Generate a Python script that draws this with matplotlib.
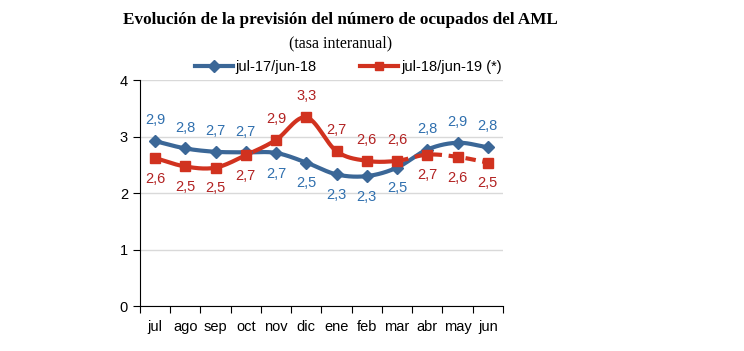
import numpy as np
import matplotlib.pyplot as plt
from matplotlib.lines import Line2D

meses = ['jul', 'ago', 'sep', 'oct', 'nov', 'dic', 'ene', 'feb', 'mar', 'abr', 'may', 'jun']
serie_1718 = [2.92, 2.79, 2.73, 2.72, 2.71, 2.54, 2.33, 2.30, 2.45, 2.77, 2.89, 2.81]
serie_1819 = [2.62, 2.47, 2.45, 2.67, 2.94, 3.34, 2.74, 2.57, 2.57, 2.68, 2.64, 2.54]
# posicion de la etiqueta: 1 arriba, -1 abajo
pos_1718 = [1, 1, 1, 1, -1, -1, -1, -1, -1, 1, 1, 1]
pos_1819 = [-1, -1, -1, -1, 1, 1, 1, 1, 1, -1, -1, -1]
inicio_prevision = 8  # desde mar la linea es discontinua

azul = '#3b6797'
rojo = '#d1321f'
azul_txt = '#2f6fae'
rojo_txt = '#b22222'


def suavizar(x, y, n=30):
    # curva tipo Catmull-Rom, como el suavizado de Excel
    x = np.asarray(x, float)
    y = np.asarray(y, float)
    px = np.concatenate([[2 * x[0] - x[1]], x, [2 * x[-1] - x[-2]]])
    py = np.concatenate([[2 * y[0] - y[1]], y, [2 * y[-1] - y[-2]]])
    xs, ys = [], []
    t = np.linspace(0, 1, n)
    for i in range(1, len(px) - 2):
        for p, out in ((px, xs), (py, ys)):
            p0, p1, p2, p3 = p[i - 1], p[i], p[i + 1], p[i + 2]
            m1 = (p2 - p0) / 6
            m2 = (p3 - p1) / 6
            seg = ((1 - t) ** 3 * p1 + 3 * (1 - t) ** 2 * t * (p1 + m1)
                   + 3 * (1 - t) * t ** 2 * (p2 - m2) + t ** 3 * p2)
            out.append(seg if i == 1 else seg[1:])
    return np.concatenate(xs), np.concatenate(ys)


fig = plt.figure(figsize=(7.44, 3.51), dpi=100)
ax = fig.add_axes([0.188, 0.128, 0.488, 0.644])
x = np.arange(len(meses))

sx, sy = suavizar(x, serie_1718)
ax.plot(sx, sy, color=azul, lw=3, solid_capstyle='round', zorder=3)
ax.plot(x, serie_1718, ls='none', marker='D', ms=6.5, color=azul, zorder=4)

rx, ry = suavizar(x, serie_1819)
m = rx <= inicio_prevision
ax.plot(rx[m], ry[m], color=rojo, lw=3, zorder=3)
ax.plot(rx[~m], ry[~m], color=rojo, lw=3, ls=(0, (2.5, 1.6)), zorder=3)
ax.plot(x, serie_1819, ls='none', marker='s', ms=7, color=rojo, zorder=4)

for serie, pos, col in ((serie_1718, pos_1718, azul_txt), (serie_1819, pos_1819, rojo_txt)):
    for xi, v, p in zip(x, serie, pos):
        ax.annotate(f'{v:.1f}'.replace('.', ','), (xi, v), xytext=(0, 15 * p),
                    textcoords='offset points', ha='center', va='center',
                    fontsize=10.5, color=col, family='Liberation Sans')

ax.set_xlim(-0.5, len(meses) - 0.5)
ax.set_ylim(0, 4)
ax.set_yticks([0, 1, 2, 3, 4])
ax.set_xticks(np.arange(-0.5, len(meses), 1))
ax.set_xticklabels([])
ax.set_xticks(x, minor=True)
ax.set_xticklabels(meses, minor=True, fontsize=10.5, family='Liberation Sans')
ax.tick_params(axis='x', which='minor', length=0, pad=10)
ax.tick_params(axis='x', which='major', length=5, direction='out')
ax.tick_params(axis='y', length=5, direction='out', labelsize=10.5)
for lab in ax.get_yticklabels():
    lab.set_family('Liberation Sans')
ax.grid(axis='y', color='#d9d9d9', lw=1)
ax.set_axisbelow(True)
for s in ('top', 'right'):
    ax.spines[s].set_visible(False)

fig.text(0.458, 0.942, 'Evolución de la previsión del número de ocupados del AML',
         ha='center', va='center', fontsize=12.3, weight='bold', family='Liberation Serif')
fig.text(0.458, 0.875, '(tasa interanual)', ha='center', va='center',
         fontsize=11.5, family='Liberation Serif')

handles = [Line2D([], [], color=azul, lw=3, marker='D', ms=6),
           Line2D([], [], color=rojo, lw=3, marker='s', ms=6)]
fig.legend(handles, ['jul-17/jun-18', 'jul-18/jun-19 (*)'], loc='center',
           bbox_to_anchor=(0.468, 0.81), ncol=2, frameon=False, handlelength=2.6,
           handletextpad=0.2, columnspacing=3.0, prop={'family': 'Liberation Sans', 'size': 10.5})

fig.savefig('out.png', dpi=100)
